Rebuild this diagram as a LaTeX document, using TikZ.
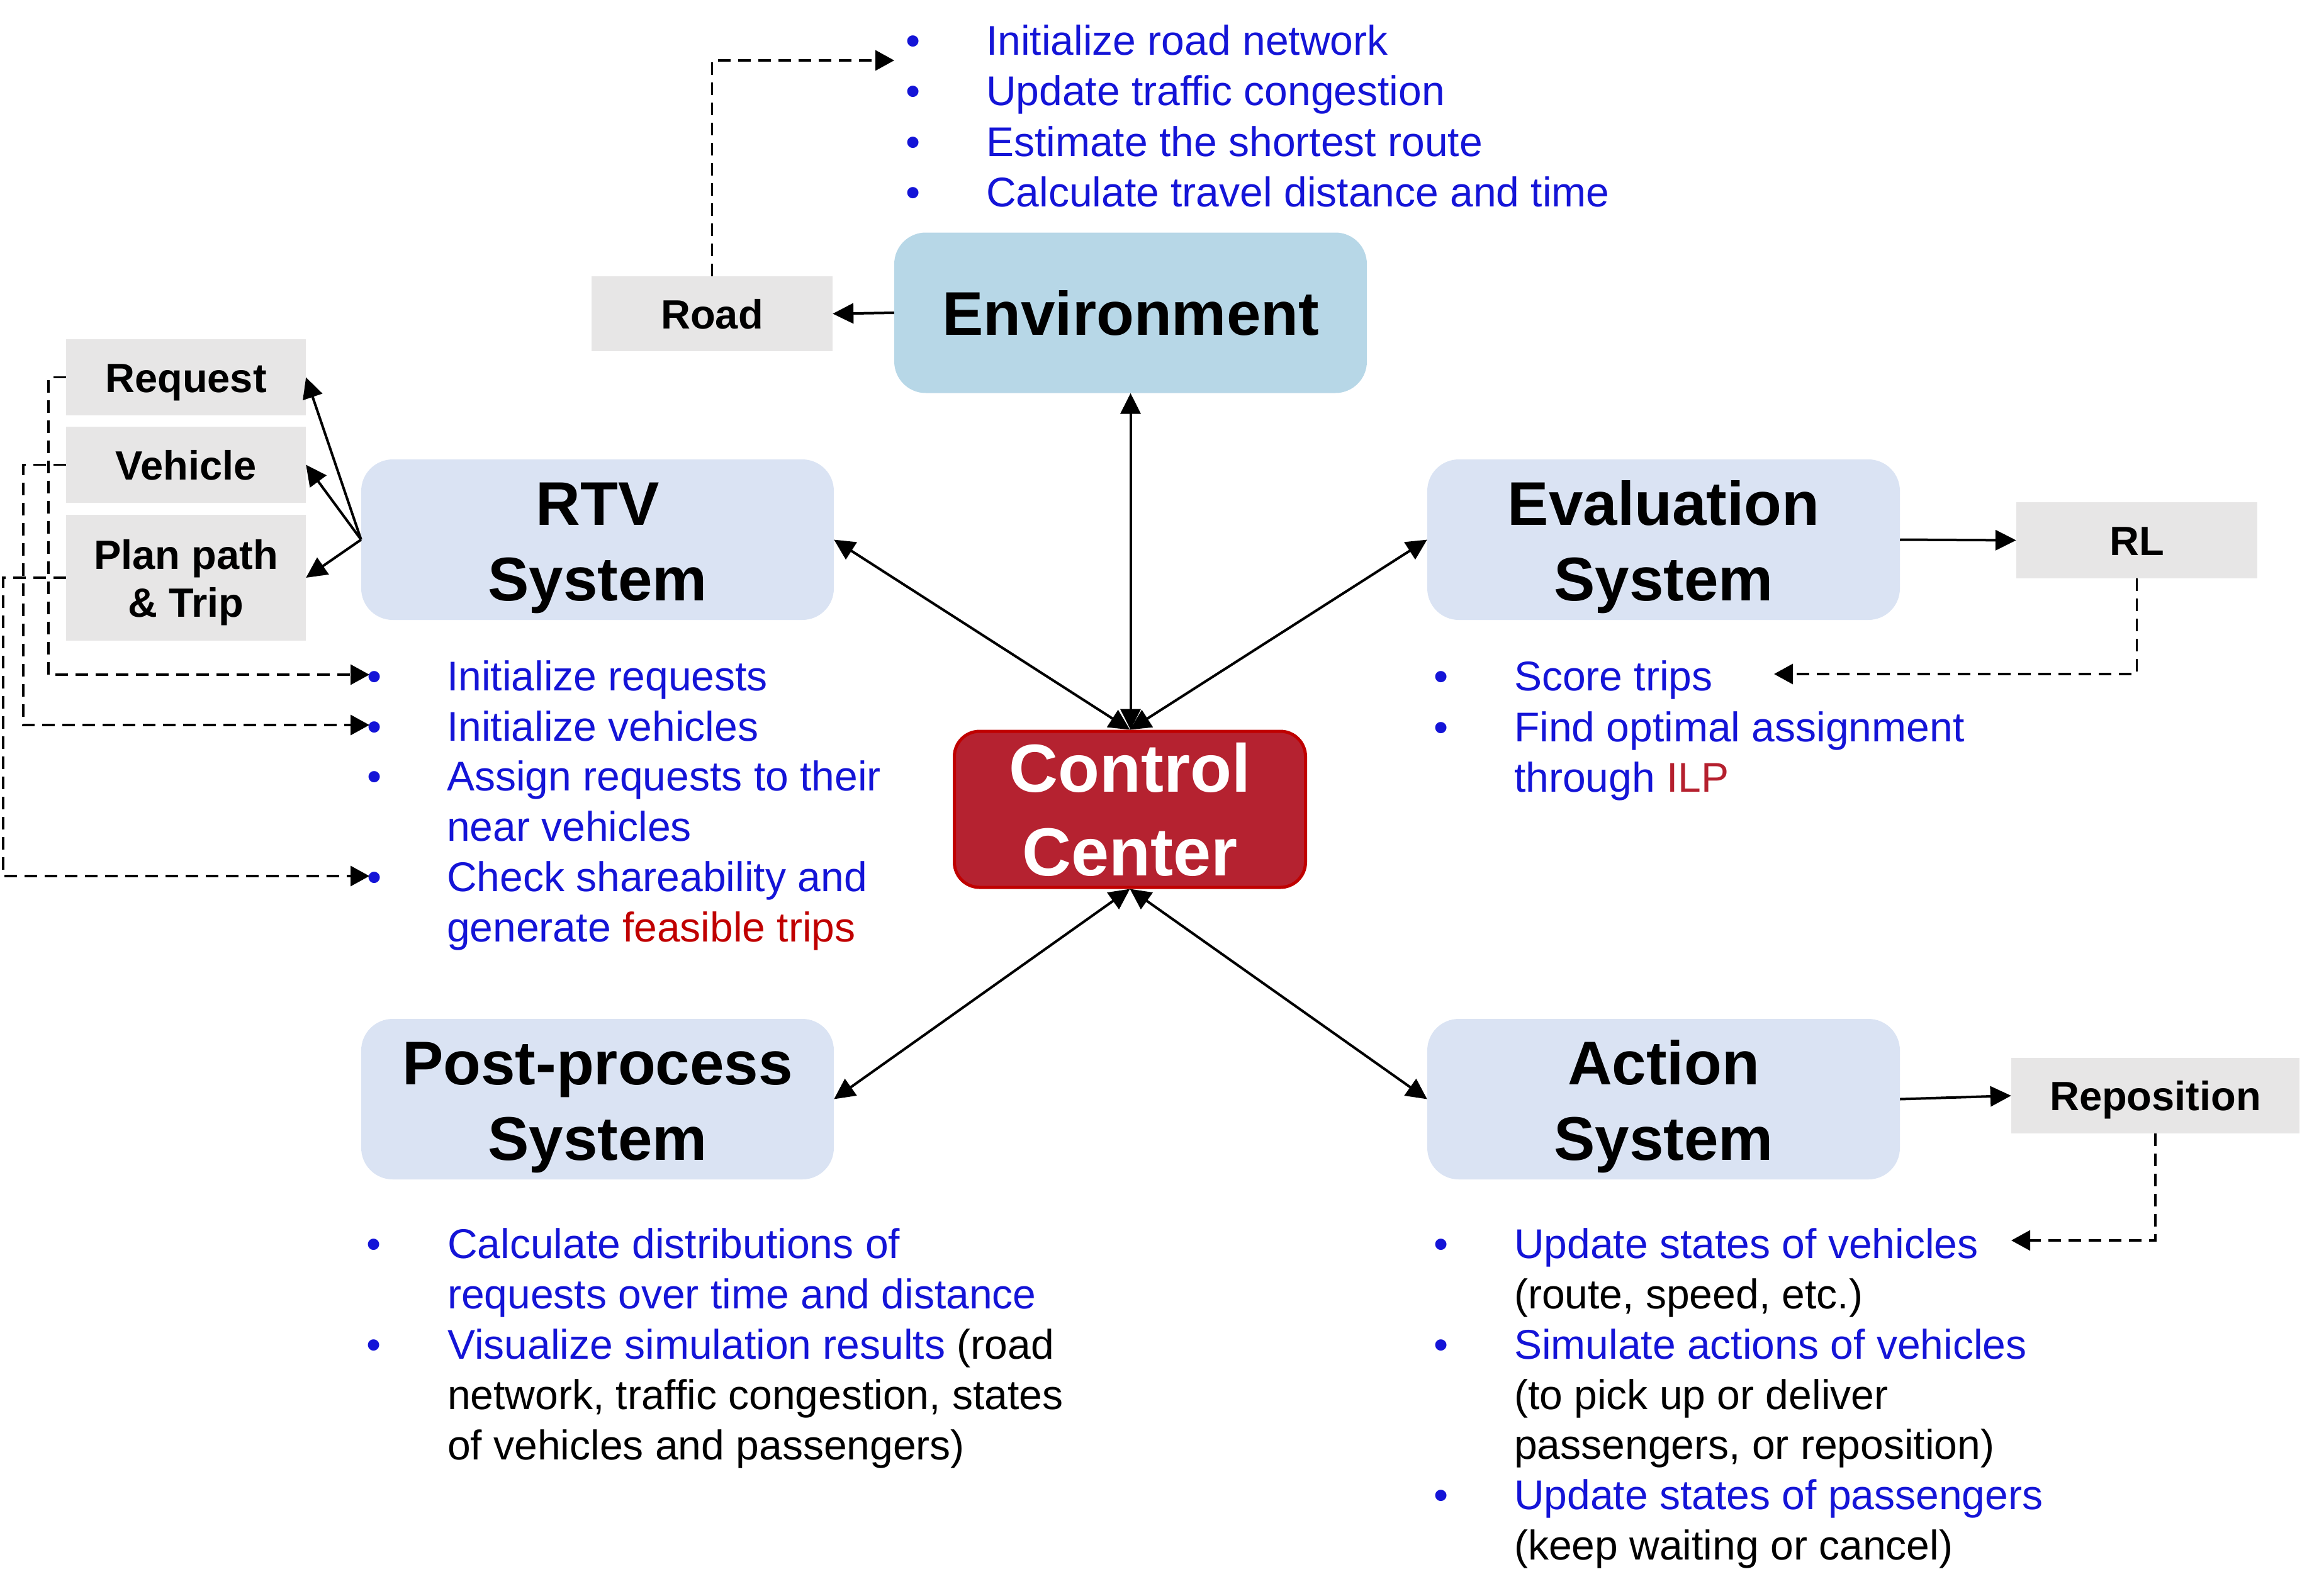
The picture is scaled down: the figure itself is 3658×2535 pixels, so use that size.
\documentclass[tikz,border=0pt]{standalone}
\usepackage{fontspec}
\setmainfont{Liberation Sans}
\usetikzlibrary{arrows.meta}
\definecolor{sysblue}{RGB}{218,227,243}
\definecolor{envblue}{RGB}{183,215,231}
\definecolor{boxgray}{RGB}{231,230,230}
\definecolor{itemblue}{RGB}{20,20,215}
\definecolor{featred}{RGB}{192,0,0}
\definecolor{ilpred}{RGB}{181,32,46}
\definecolor{ctrlfill}{RGB}{181,34,48}
\definecolor{ctrlline}{RGB}{192,0,0}
\newcommand{\bitem}[5]{\node[dotitem] (#1b) at (#2,#4) {•}; \node[item] (#1) at (#3,#4) {#5};}
\newcommand{\citem}[4]{\node[item] (#1) at (#2,#3) {#4};}
\begin{document}
\begin{tikzpicture}[x=1pt,y=-1pt,
  sysbox/.style={rounded corners=50pt, fill=sysblue, minimum width=751pt, minimum height=255pt,
    inner sep=0pt, align=center, font=\fontsize{98}{120}\selectfont\bfseries},
  greybox/.style={fill=boxgray, inner sep=0pt, align=center, text height=47pt, text depth=0pt,
    font=\fontsize{65}{76}\selectfont\bfseries},
  item/.style={anchor=base west, inner sep=0pt, text=itemblue, font=\fontsize{66}{80}\selectfont},
  dotitem/.style={anchor=base, inner sep=0pt, text=itemblue, font=\fontsize{66}{80}\selectfont},
  link/.style={line width=4pt, -{Triangle[length=33pt,width=32pt]}},
  dlink/.style={line width=4pt, {Triangle[length=33pt,width=32pt]}-{Triangle[length=33pt,width=32pt]}},
  dashlink/.style={line width=3.5pt, dash pattern=on 20pt off 12pt, -{Triangle[length=30pt,width=32pt]}}
]
\useasboundingbox (0,0) rectangle (3658,2535);

% main boxes
\node[sysbox, fill=envblue] (env) at (1796.5,497) {Environment};
\node[sysbox] (rtv) at (949.5,857.5) {\rule{0pt}{94pt}RTV\\System};
\node[sysbox] (eval) at (2643.5,857.5) {\rule{0pt}{94pt}Evaluation\\System};
\node[sysbox] (post) at (949.5,1746.5) {\rule{0pt}{94pt}Post-process\\System};
\node[sysbox] (action) at (2643.5,1746.5) {\rule{0pt}{94pt}Action\\System};
\node[rounded corners=40pt, fill=ctrlfill, draw=ctrlline, line width=5pt, text=white,
  minimum width=558pt, minimum height=248pt, inner sep=0pt, align=center,
  font=\fontsize{108}{133}\selectfont\bfseries] (ctrl) at (1795.5,1286) {Control\\Center};

% grey boxes
\node[greybox, minimum width=383pt, minimum height=119pt] (road) at (1131.5,498.5) {Road};
\node[greybox, minimum width=383pt, minimum height=121pt] (rl) at (3395.5,858.5) {RL};
\node[greybox, minimum width=458pt, minimum height=120pt] (repos) at (3425,1741) {Reposition};
\node[greybox, minimum width=381pt, minimum height=121pt] (request) at (295.5,599.5) {Request};
\node[greybox, minimum width=381pt, minimum height=121pt] (vehicle) at (295.5,738.5) {Vehicle};
\node[fill=boxgray, inner sep=0pt, align=center, minimum width=381pt, minimum height=200pt,
  font=\fontsize{65}{76}\selectfont\bfseries] (plan) at (295.5,918) {\rule{0pt}{62pt}Plan path\\\& Trip};

% environment list
\bitem{e1}{1451}{1567}{87}{Initialize road network}
\bitem{e2}{1451}{1567}{167}{Update traffic congestion}
\bitem{e3}{1451}{1567}{248}{Estimate the shortest route}
\bitem{e4}{1451}{1567}{328}{Calculate travel distance and time}

% RTV list
\bitem{r1}{595}{710}{1097}{Initialize requests}
\bitem{r2}{595}{710}{1177}{Initialize vehicles}
\bitem{r3}{595}{710}{1256}{Assign requests to their}
\citem{r4}{710}{1336}{near vehicles}
\bitem{r5}{595}{710}{1416}{Check shareability and}
\citem{r6}{710}{1496}{generate {\color{featred}feasible trips}}

% evaluation list
\bitem{v1}{2290}{2406}{1097}{Score trips}
\bitem{v2}{2290}{2406}{1178}{Find optimal assignment}
\citem{v3}{2406}{1258}{through {\color{ilpred}ILP}}

% post-process list
\bitem{p1}{594}{711}{1999}{Calculate distributions of}
\citem{p2}{711}{2079}{requests over time and distance}
\bitem{p3}{594}{711}{2159}{Visualize simulation results {\color{black}(road}}
\citem{p4}{711}{2239}{\color{black}network, traffic congestion, states}
\citem{p5}{711}{2319}{\color{black}of vehicles and passengers)}

% action list
\bitem{a1}{2290}{2406}{1999}{Update states of vehicles}
\citem{a2}{2406}{2079}{\color{black}(route, speed, etc.)}
\bitem{a3}{2290}{2406}{2159}{Simulate actions of vehicles}
\citem{a4}{2406}{2239}{\color{black}(to pick up or deliver}
\citem{a5}{2406}{2318}{\color{black}passengers, or reposition)}
\bitem{a6}{2290}{2406}{2398}{Update states of passengers}
\citem{a7}{2406}{2478}{\color{black}(keep waiting or cancel)}

% solid connectors
\draw[link] (env.west) -- (road.east);
\draw[dlink] (env.south) -- (env.south |- ctrl.north);
\draw[dlink] (rtv.east) -- (ctrl.north);
\draw[dlink] (eval.west) -- (ctrl.north);
\draw[dlink] (post.east) -- (ctrl.south);
\draw[dlink] (action.west) -- (ctrl.south);
\draw[link] (eval.east) -- (rl.west);
\draw[link] (action.east) -- (repos.west);
\draw[link] (rtv.west) -- (request.east);
\draw[link] (rtv.west) -- (vehicle.east);
\draw[link] (rtv.west) -- (plan.east);

% dashed connectors
\coordinate (t0) at (1421,96);
\coordinate (t1) at (587,1072);
\coordinate (t2) at (587,1152);
\coordinate (t3) at (587,1392);
\coordinate (t5) at (2819,1071);
\coordinate (t6) at (3196,1971);
\draw[dashlink] (road.north) |- (t0);
\draw[dashlink] (request.west) -- ++(-28,0) |- (t1);
\draw[dashlink] (vehicle.west) -- ++(-68,0) |- (t2);
\draw[dashlink] (plan.west) -- ++(-100,0) |- (t3);
\draw[dashlink] (rl.south) |- (t5);
\draw[dashlink] (repos.south) |- (t6);
\end{tikzpicture}
\end{document}
